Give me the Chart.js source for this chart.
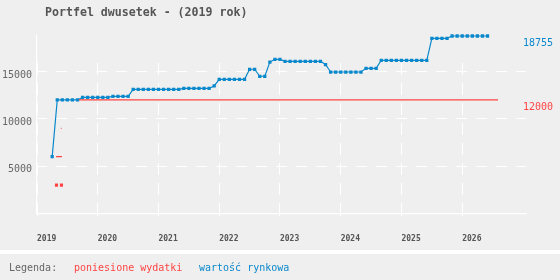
<!DOCTYPE html>
<html>
<head>
<meta charset="utf-8">
<script src="https://cdn.jsdelivr.net/npm/chart.js@4.4.1/dist/chart.umd.min.js"></script>
<style>
  html, body { margin: 0; padding: 0; background: #efefef; width: 560px; height: 280px; overflow: hidden; }
  canvas { display: block; }
</style>
</head>
<body>
<canvas id="c" width="560" height="280"></canvas>
<script>
// ---- data ----
const titleText = 'Portfel dwusetek - (2019 rok)';
const legendLabel = 'Legenda:';
const seriesNames = ['poniesione wydatki', 'wartość rynkowa'];
const years = [2019, 2020, 2021, 2022, 2023, 2024, 2025, 2026];
const yTicks = [5000, 10000, 15000];
const firstMonth = 3; // months after Jan 2019 of the first market value (April 2019)
const marketValue = [
  6000,
  12000, 12000, 12000, 12000, 12000,
  12280, 12280, 12280, 12280, 12280, 12280,
  12380, 12380, 12380, 12380,
  13120, 13120, 13120, 13120, 13120, 13120, 13120, 13120, 13120, 13120,
  13230, 13230, 13230, 13230, 13230, 13230,
  13480,
  14180, 14180, 14180, 14180, 14180, 14180,
  15240, 15240,
  14500, 14500,
  16000,
  16290, 16290,
  16080, 16080, 16080, 16080, 16080, 16080, 16080, 16080,
  15740,
  14950, 14950, 14950, 14950, 14950, 14950, 14950,
  15340, 15340, 15340,
  16190, 16190, 16190, 16190, 16190, 16190, 16190, 16190, 16190, 16190,
  18510, 18510, 18510, 18510,
  18755, 18755, 18755, 18755, 18755, 18755, 18755, 18755
];
const expenseDates   = [2019.321, null, 2019.403, null, 2019.313, 2019.412, null, 2019.392, 2019.404, null, 2019.69, 2026.59];
const expenseAmounts = [3000,     null, 3000,     null, 6000,     6000,     null, 9000,     9000,     null, 12000,   12000];

// ---- styles ----
const BLUE = '#0a88cc';
const RED = '#ff4444';
const MONO = '"DejaVu Sans Mono", monospace';

const marketData = marketValue.map((v, i) => ({ x: 2019 + (firstMonth + i) / 12, y: v }));
let lastX = expenseDates[0];
const expenseData = expenseDates.map((d, i) => {
  if (d !== null) lastX = d;
  return { x: lastX, y: expenseAmounts[i] };
});

function isolated(ctx) {
  const d = ctx.dataset.data, i = ctx.dataIndex;
  if (!d[i] || d[i].y === null) return false;
  const prev = i > 0 ? d[i - 1].y : null;
  const next = i < d.length - 1 ? d[i + 1].y : null;
  return prev === null && next === null;
}

const decor = {
  id: 'decor',
  afterDraw(chart) {
    const { ctx, chartArea, scales } = chart;
    ctx.save();
    ctx.fillStyle = '#ffffff';
    ctx.fillRect(0, 250, 560, 4);
    ctx.textBaseline = 'alphabetic';
    ctx.textAlign = 'left';
    ctx.font = 'bold 11.6px ' + MONO;
    ctx.fillStyle = '#555555';
    ctx.fillText(titleText, 45, 16);
    ctx.font = '10px ' + MONO;
    ctx.fillStyle = '#666666';
    ctx.fillText(legendLabel, 9, 271);
    ctx.fillStyle = RED;
    ctx.fillText(seriesNames[0], 74, 271);
    ctx.fillStyle = BLUE;
    ctx.fillText(seriesNames[1], 199, 271);
    ctx.textBaseline = 'middle';
    const lastBlue = marketValue[marketValue.length - 1];
    const lastRed = expenseAmounts[expenseAmounts.length - 1];
    ctx.fillStyle = BLUE;
    ctx.fillText(String(lastBlue), chartArea.right - 3, scales.y.getPixelForValue(lastBlue) + 7);
    ctx.fillStyle = RED;
    ctx.fillText(String(lastRed), chartArea.right - 3, scales.y.getPixelForValue(lastRed) + 7);
    ctx.restore();
  }
};

new Chart(document.getElementById('c'), {
  type: 'line',
  data: {
    datasets: [
      {
        label: seriesNames[0],
        data: expenseData,
        borderColor: RED,
        backgroundColor: RED,
        borderWidth: 1.3,
        spanGaps: false,
        clip: 6,
        pointStyle: 'rect',
        pointRadius: ctx => isolated(ctx) ? 2.2 : 0,
        pointBorderWidth: 0,
        pointBackgroundColor: RED,
        tension: 0
      },
      {
        label: seriesNames[1],
        data: marketData,
        borderColor: BLUE,
        backgroundColor: BLUE,
        borderWidth: 1.2,
        clip: 6,
        pointStyle: 'rect',
        pointRadius: 2.3,
        pointBorderWidth: 0,
        pointBackgroundColor: BLUE,
        tension: 0
      }
    ]
  },
  options: {
    responsive: false,
    animation: false,
    devicePixelRatio: 1,
    layout: { padding: { top: 36, right: 34, left: 0, bottom: 30 } },
    plugins: { legend: { display: false }, title: { display: false }, tooltip: { enabled: false } },
    scales: {
      x: {
        type: 'linear',
        min: 2019,
        max: 2027.05,
        afterBuildTicks: axis => { axis.ticks = years.map(v => ({ value: v })); },
        afterFit: s => { s.height = 36.5; },
        grid: {
          color: '#ffffff',
          lineWidth: 1,
          drawTicks: true,
          tickLength: 3,
          tickColor: '#ffffff',
          tickWidth: 1,
          tickBorderDash: []
        },
        border: {
          display: true,
          color: '#ffffff',
          width: 1.2,
          dash: [0, 27, 12, 8, 12, 8, 12, 8, 12, 8, 12, 8, 12, 8, 12, 8, 12, 60]
        },
        ticks: {
          align: 'start',
          padding: 18,
          color: '#555555',
          font: { family: MONO, size: 8, weight: 'bold' },
          maxRotation: 0,
          autoSkip: false,
          callback: v => String(v)
        }
      },
      y: {
        type: 'linear',
        min: 0,
        max: 18755,
        afterBuildTicks: axis => { axis.ticks = yTicks.map(v => ({ value: v })); },
        afterFit: s => { s.width = 37; },
        grid: {
          color: '#ffffff',
          lineWidth: 1,
          drawTicks: false
        },
        border: {
          display: true,
          color: '#ffffff',
          width: 1.2,
          dash: [11, 9],
          dashOffset: 1
        },
        ticks: {
          padding: 5,
          labelOffset: 3.5,
          color: '#666666',
          font: { family: MONO, size: 10 },
          callback: v => String(v)
        }
      }
    }
  },
  plugins: [decor]
});
</script>
</body>
</html>
